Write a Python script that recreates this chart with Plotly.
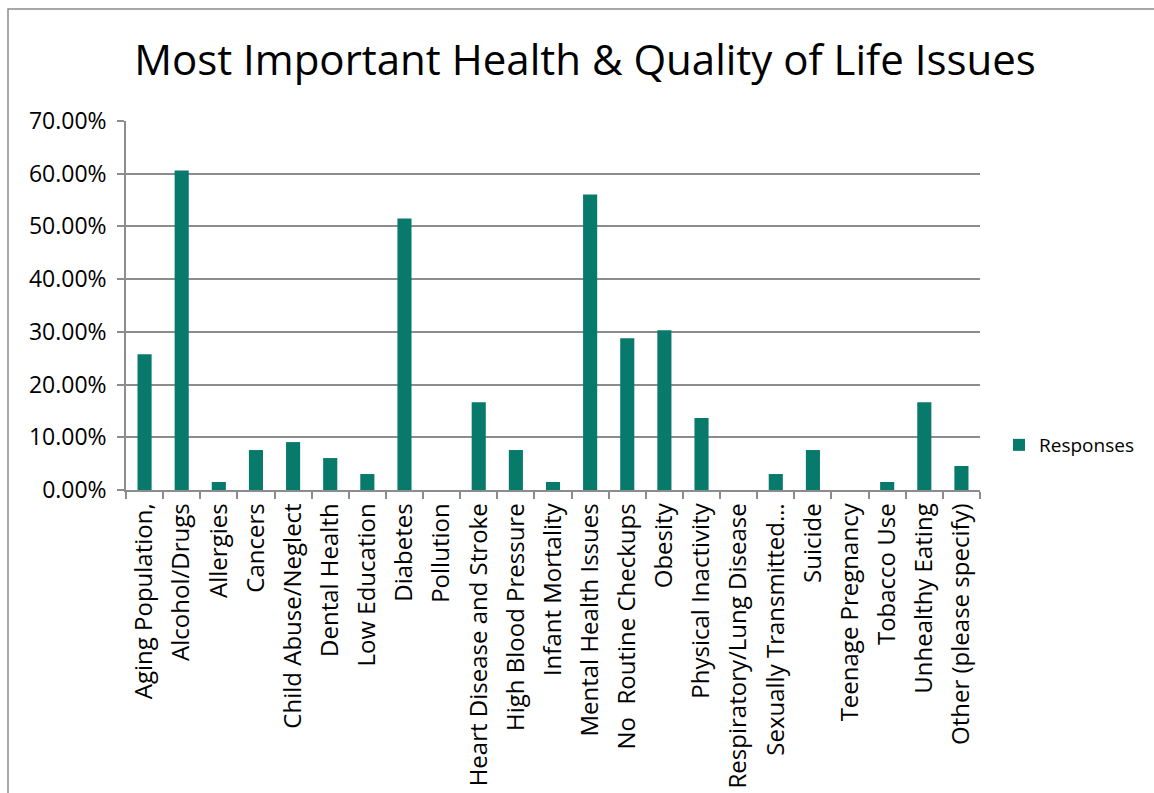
import plotly.graph_objects as go

categories = [
    "Aging Population,", "Alcohol/Drugs", "Allergies", "Cancers",
    "Child Abuse/Neglect", "Dental Health", "Low Education", "Diabetes",
    "Pollution", "Heart Disease and Stroke", "High Blood Pressure",
    "Infant Mortality", "Mental Health Issues", "No  Routine Checkups",
    "Obesity", "Physical Inactivity", "Respiratory/Lung Disease",
    "Sexually Transmitted…", "Suicide", "Teenage Pregnancy",
    "Tobacco Use", "Unhealthy Eating", "Other (please specify)",
]
responses = [
    0.2576, 0.6061, 0.0152, 0.0758, 0.0909, 0.0606, 0.0303, 0.5152,
    0.0, 0.1667, 0.0758, 0.0152, 0.5606, 0.2879, 0.3030, 0.1364,
    0.0, 0.0303, 0.0758, 0.0, 0.0152, 0.1667, 0.0455,
]
y_ticks = [0.0, 0.1, 0.2, 0.3, 0.4, 0.5, 0.6, 0.7]

W, H = 1154, 793
L, R, T, B = 126, 980, 121, 490
pw, ph = R - L, B - T

def px(x):
    return (x - L) / pw

def py(y):
    return (B - y) / ph

FONT = "Open Sans, sans-serif"
TEAL = "#077A6C"
GRID = "#8C8C8C"

fig = go.Figure(
    go.Bar(
        x=categories,
        y=responses,
        name="Responses",
        marker=dict(color=TEAL, line=dict(width=0)),
        showlegend=True,
    )
)

fig.update_layout(
    width=W,
    height=H,
    margin=dict(l=L, r=W - R, t=T, b=H - B, autoexpand=False),
    paper_bgcolor="white",
    plot_bgcolor="white",
    font=dict(family=FONT, color="black"),
    bargap=0.62,
    title=dict(
        text="Most Important Health &amp; Quality of Life Issues",
        font=dict(family=FONT, size=42, color="black"),
        x=px(585), xref="paper", xanchor="center",
        y=1 - 60 / H, yanchor="middle",
    ),
    legend=dict(
        x=px(999), y=py(445), xanchor="left", yanchor="middle",
        font=dict(family=FONT, size=19),
        itemwidth=30,
        bgcolor="rgba(0,0,0,0)",
    ),
    shapes=[
        dict(
            type="rect", xref="paper", yref="paper",
            x0=px(8), x1=px(1170), y0=py(820), y1=py(9),
            line=dict(color="#8C8C8C", width=1.5),
            layer="below",
        )
    ],
)

fig.update_xaxes(
    type="category",
    automargin=False,
    tickson="boundaries",
    ticks="outside",
    ticklen=7,
    tickcolor=GRID,
    tickwidth=1.5,
    showline=True,
    linecolor=GRID,
    linewidth=1.5,
    showgrid=False,
    tickangle=-90,
    tickfont=dict(family=FONT, size=24, color="black"),
    ticklabelstandoff=2,
)

fig.update_yaxes(
    automargin=False,
    range=[0, 0.7],
    tickvals=y_ticks,
    tickformat=".2%",
    ticks="outside",
    ticklen=7,
    tickcolor=GRID,
    tickwidth=1.5,
    showline=True,
    linecolor=GRID,
    linewidth=1.5,
    showgrid=True,
    gridcolor=GRID,
    gridwidth=1.5,
    zeroline=False,
    ticklabelstandoff=6,
    tickfont=dict(family=FONT, size=23, color="black"),
)

fig.write_html("out.html")
